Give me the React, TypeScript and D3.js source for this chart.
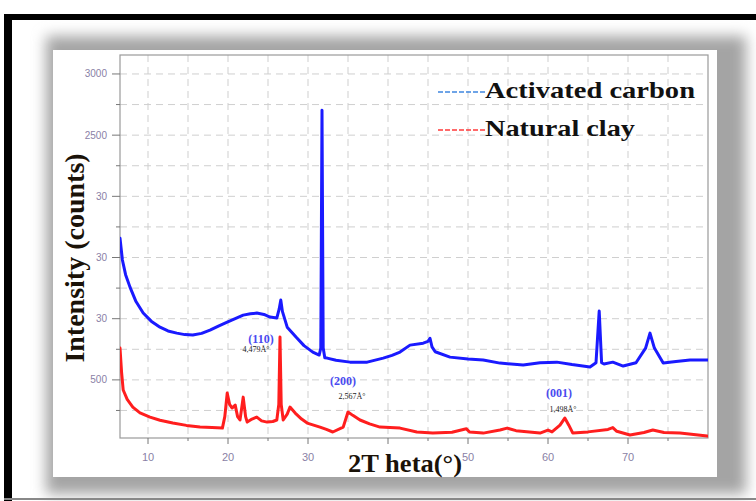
import React from "react";
import * as d3 from "d3";

// 2θ positions (°) and intensities (counts) for each sample
const carbonTheta = [6.5, 6.8, 7.2, 7.75, 8.5, 9.4, 10.4, 11.5, 12.5, 13.6, 14.6, 15.6, 16.7, 17.75, 18.8, 19.9, 20.9, 21.9, 22.8, 23.6, 24.5, 25.25, 26.1, 26.4, 26.6, 26.8, 27.4, 28.5, 29.5, 30.6, 31.4, 31.6, 31.75, 31.9, 32.1, 32.4, 33.5, 35.25, 37.4, 39.4, 40.5, 41.5, 42.75, 44.4, 45.0, 45.25, 45.5, 45.9, 47.75, 50, 51.9, 54, 56.9, 59, 61.1, 63, 65.25, 66.0, 66.4, 66.7, 67, 68.1, 69.4, 71, 72.2, 72.75, 73.3, 74.4, 76, 77.75, 80];
const carbonCounts = [1658, 1480, 1360, 1258, 1140, 1046, 980, 931, 900, 882, 870, 866, 880, 907, 940, 972, 1000, 1029, 1040, 1046, 1035, 1013, 1005, 1080, 1152, 1060, 931, 850, 780, 727, 703, 760, 2704, 760, 680, 678, 660, 645, 645, 678, 700, 727, 784, 800, 815, 840, 770, 730, 686, 670, 662, 637, 621, 640, 645, 625, 605, 640, 1062, 640, 630, 645, 613, 640, 760, 882, 760, 637, 650, 662, 662];

const clayTheta = [6.5, 6.7, 6.9, 7.4, 8.1, 9, 10.25, 11.5, 13.1, 14.8, 16.5, 18, 19.3, 19.6, 19.9, 20.2, 20.5, 20.9, 21.2, 21.5, 21.9, 22.2, 22.4, 23, 23.6, 24.2, 24.9, 25.6, 26.1, 26.35, 26.5, 26.65, 26.9, 27.4, 27.75, 28.4, 29.2, 29.9, 31.5, 32.3, 33.1, 34.4, 35, 35.6, 36.5, 37.7, 39, 41.5, 43.6, 45.6, 48, 49.8, 50.2, 51.9, 54, 54.9, 56, 59, 60, 60.5, 61.5, 62.1, 62.6, 63.1, 65, 67.5, 68.1, 68.6, 70.25, 72, 73.1, 74.5, 76.5, 79.9];
const clayCounts = [760, 560, 417, 340, 278, 230, 196, 170, 147, 128, 114, 110, 106, 200, 392, 300, 270, 294, 200, 172, 359, 200, 155, 180, 196, 165, 155, 160, 172, 300, 850, 300, 172, 220, 278, 229, 180, 147, 114, 95, 74, 114, 237, 210, 172, 140, 114, 106, 74, 65, 72, 100, 74, 65, 90, 106, 85, 65, 90, 75, 130, 188, 130, 65, 75, 95, 110, 80, 49, 70, 90, 70, 65, 41];

// Axis ticks and their printed labels
const xMajorTicks = [10, 20, 30, 40, 50, 60, 70];
const xTickLabels = ["10", "20", "30", "", "50", "60", "70"];
const xMinorTicks = [15, 25, 35, 45, 55, 65, 75];
const yMajorTicks = [500, 1000, 1500, 2000, 2500, 3000];
const yTickLabels = ["500", "30", "30", "30", "2500", "3000"];
const yMinorTicks = [250, 750, 1250, 1750, 2250, 2750];

// Reflection annotations: Miller index and d-spacing
const peakIndex = ["(110)", "(200)", "(001)"];
const peakSpacing = ["4,479Å°", "2,567Å°", "1,498Å°"];

const seriesNames = ["Activated carbon", "Natural clay"];

export default function App() {
  const W = 756;
  const H = 501;
  const x = d3.scaleLinear().domain([6.5, 80]).range([120, 708]);
  const y = d3.scaleLinear().domain([25, 3155]).range([438, 55]);
  const [x0, x1] = x.range();
  const [yb, yt] = y.range();

  const line = d3
    .line<[number, number]>()
    .x((d) => x(d[0]))
    .y((d) => y(d[1]));

  const carbon = carbonTheta.map((t, i) => [t, carbonCounts[i]] as [number, number]);
  const clay = clayTheta.map((t, i) => [t, clayCounts[i]] as [number, number]);

  const gridX = d3.range(10, 80, 5);
  const gridY = d3.range(250, 3155, 250);

  const serif = "'Liberation Serif', 'Times New Roman', serif";
  const sans = "'Liberation Sans', Arial, sans-serif";
  const tickColor = "#8a7fa6";

  // label positions under each reflection
  const idxX = [261, 343, 559];
  const idxY = [343, 385, 397];
  const spX = [256, 352, 563];
  const spY = [352, 399, 412];

  return (
    <svg
      width={W}
      height={H}
      viewBox={`0 0 ${W} ${H}`}
      style={{ position: "absolute", left: 0, top: 0, background: "#fff" }}
    >
      <defs>
        <filter id="panelShadow" x="-10%" y="-15%" width="120%" height="130%">
          <feGaussianBlur stdDeviation="7" />
        </filter>
        <clipPath id="plotClip">
          <rect x={x0} y={yt} width={x1 - x0} height={yb - yt} />
        </clipPath>
      </defs>

      <rect x={0} y={0} width={W} height={H} fill="#fff" />

      {/* panel with soft drop shadow */}
      <rect x={46} y={36} width={700} height={458} fill="#a4a4a4" filter="url(#panelShadow)" />
      <rect x={53} y={50} width={664} height={427} fill="#fff" />

      {/* outer frame */}
      <rect x={4} y={14} width={8} height={H - 14} fill="#000" />
      <rect x={4} y={14} width={W - 4} height={6} fill="#000" />
      <rect x={4} y={498} width={W - 4} height={2} fill="#888" />

      {/* dashed grid */}
      <g stroke="#cfcfcf" strokeWidth={1} strokeDasharray="7,5">
        {gridX.map((v) => (
          <line key={"gx" + v} x1={x(v)} x2={x(v)} y1={yt} y2={yb} />
        ))}
        {gridY.map((v) => (
          <line key={"gy" + v} x1={x0} x2={x1} y1={y(v)} y2={y(v)} />
        ))}
      </g>

      {/* plot frame */}
      <rect x={x0} y={yt} width={x1 - x0} height={yb - yt} fill="none" stroke="#9a9a9a" strokeWidth={1.2} />

      {/* ticks */}
      <g stroke="#777" strokeWidth={1}>
        {yMajorTicks.map((v) => (
          <line key={"ym" + v} x1={x0 - 8} x2={x0} y1={y(v)} y2={y(v)} />
        ))}
        {yMinorTicks.map((v) => (
          <line key={"yn" + v} x1={x0 - 4} x2={x0} y1={y(v)} y2={y(v)} />
        ))}
        {xMajorTicks.map((v) => (
          <line key={"xm" + v} x1={x(v)} x2={x(v)} y1={yb} y2={yb + 6} />
        ))}
        {xMinorTicks.map((v) => (
          <line key={"xn" + v} x1={x(v)} x2={x(v)} y1={yb} y2={yb + 3} />
        ))}
      </g>
      <g fontFamily={sans} fontSize={10} fill={tickColor}>
        {yMajorTicks.map((v, i) => (
          <text key={"yl" + v} x={107} y={y(v)} dy="0.35em" textAnchor="end">
            {yTickLabels[i]}
          </text>
        ))}
        {xMajorTicks.map((v, i) => (
          <text key={"xl" + v} x={x(v)} y={461} textAnchor="middle" fontSize={11}>
            {xTickLabels[i]}
          </text>
        ))}
      </g>

      {/* diffraction patterns */}
      <g clipPath="url(#plotClip)" fill="none" strokeLinejoin="round" strokeLinecap="round">
        <path d={line(clay) || ""} stroke="#ff1e1e" strokeWidth={3} />
        <path d={line(carbon) || ""} stroke="#1a1aff" strokeWidth={3} />
      </g>

      {/* reflection annotations */}
      {peakIndex.map((lbl, i) => (
        <g key={"pk" + i}>
          <text x={idxX[i]} y={idxY[i]} textAnchor="middle" fontFamily={serif} fontSize={12} fontWeight="bold" fill="#4a4af0">
            {lbl}
          </text>
          <text x={spX[i]} y={spY[i]} textAnchor="middle" fontFamily={serif} fontSize={8} fill="#222">
            {peakSpacing[i]}
          </text>
        </g>
      ))}

      {/* legend */}
      <line x1={438} x2={485} y1={92} y2={92} stroke="#3f86e0" strokeWidth={1.3} strokeDasharray="5,2" />
      <text x={485} y={98} fontFamily={serif} fontWeight="bold" fontSize={23} fill="#111" textLength={210} lengthAdjust="spacingAndGlyphs">
        {seriesNames[0]}
      </text>
      <line x1={438} x2={485} y1={130} y2={130} stroke="#ff3a3a" strokeWidth={1.3} strokeDasharray="5,2" />
      <text x={485} y={136} fontFamily={serif} fontWeight="bold" fontSize={23} fill="#111" textLength={150} lengthAdjust="spacingAndGlyphs">
        {seriesNames[1]}
      </text>

      {/* axis titles */}
      <text
        transform="translate(84,258) rotate(-90)"
        textAnchor="middle"
        fontFamily={serif}
        fontWeight="bold"
        fontSize={28}
        fill="#1a1208"
      >
        Intensity (counts)
      </text>
      <text x={348} y={472} fontFamily={serif} fontWeight="bold" fontSize={26} fill="#1a1208" textLength={114} lengthAdjust="spacingAndGlyphs">
        2T heta(°)
      </text>
    </svg>
  );
}
